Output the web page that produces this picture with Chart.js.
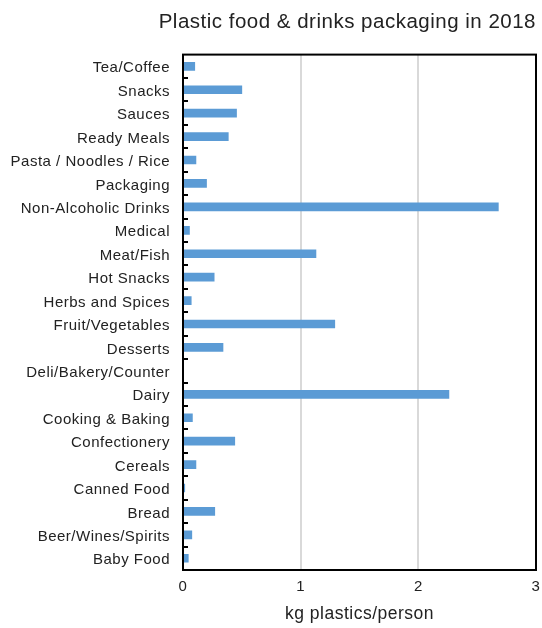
<!DOCTYPE html>
<html lang="en">
<head>
  <meta charset="UTF-8" />
  <title>Plastic food &amp; drinks packaging in 2018</title>
  <script src="https://cdn.jsdelivr.net/npm/chart.js"></script>
  <style>
    html, body { margin: 0; padding: 0; background: #fff; }
    #wrap { width: 542px; height: 628px; }
  </style>
</head>
<body>
  <div id="wrap"><canvas id="packChart" width="542" height="628"></canvas></div>
  <script>
    // Categories, bottom to top (axis is reversed so Baby Food sits at the bottom)
    const categories = [
      "Baby Food", "Beer/Wines/Spirits", "Bread", "Canned Food", "Cereals",
      "Confectionery", "Cooking & Baking", "Dairy", "Deli/Bakery/Counter",
      "Desserts", "Fruit/Vegetables", "Herbs and Spices", "Hot Snacks",
      "Meat/Fish", "Medical", "Non-Alcoholic Drinks", "Packaging",
      "Pasta / Noodles / Rice", "Ready Meals", "Sauces", "Snacks", "Tea/Coffee"
    ];

    // kg of plastic packaging per person
    const kgPerPerson = [
      0.045, 0.075, 0.27, 0.015, 0.11,
      0.44, 0.08, 2.26, 0,
      0.34, 1.29, 0.07, 0.265,
      1.13, 0.055, 2.68, 0.20,
      0.11, 0.385, 0.455, 0.50, 0.10
    ];

    const xTicks = [0, 1, 2, 3];

    const FONT = "'Liberation Sans', Arial, sans-serif";
    const TEXT = "#222";

    // slightly looser text, set before layout so label widths are measured with it
    const spacingPlugin = {
      id: "spacing",
      beforeUpdate(chart) { chart.ctx.letterSpacing = "0.5px"; },
      beforeDraw(chart) { chart.ctx.letterSpacing = "0.5px"; }
    };

    // Frame round the plot plus short inward ticks between categories
    const framePlugin = {
      id: "frame",
      afterDatasetsDraw(chart) {
        const { ctx, chartArea: a, scales } = chart;
        const y = scales.y;
        ctx.save();
        ctx.strokeStyle = "#000";
        ctx.lineWidth = 2;
        for (let i = 0; i < categories.length - 1; i++) {
          const py = Math.round((y.getPixelForTick(i) + y.getPixelForTick(i + 1)) / 2);
          ctx.beginPath();
          ctx.moveTo(a.left, py);
          ctx.lineTo(a.left + 5, py);
          ctx.stroke();
        }
        ctx.strokeRect(a.left, a.top, a.right - a.left, a.bottom - a.top);
        ctx.restore();
      }
    };

    new Chart(document.getElementById("packChart"), {
      type: "bar",
      data: {
        labels: categories,
        datasets: [{
          data: kgPerPerson,
          backgroundColor: "#5b9bd5",
          barThickness: 8
        }]
      },
      options: {
        indexAxis: "y",
        responsive: false,
        animation: false,
        layout: { padding: { left: 0, right: 6, top: 0, bottom: 3 } },
        plugins: {
          legend: { display: false },
          tooltip: { enabled: false },
          title: {
            display: true,
            text: "Plastic food & drinks packaging in 2018",
            align: "end",
            color: TEXT,
            font: { family: FONT, size: 20.5, weight: "normal" },
            padding: { top: 10, bottom: 20 }
          }
        },
        scales: {
          x: {
            min: 0,
            max: 3,
            afterBuildTicks(scale) {
              scale.ticks = xTicks.map(v => ({ value: v }));
            },
            afterFit(scale) { scale.paddingRight = 0; },
            grid: {
              color: ctx => (ctx.tick && (ctx.tick.value === 0 || ctx.tick.value === 3)) ? "rgba(0,0,0,0)" : "#d9d9d9",
              lineWidth: 2,
              drawTicks: false
            },
            border: { display: false },
            ticks: {
              color: TEXT,
              padding: 8,
              font: { family: FONT, size: 15 }
            },
            title: {
              display: true,
              text: "kg plastics/person",
              color: TEXT,
              font: { family: FONT, size: 17.5 },
              padding: { top: 0, bottom: 0 }
            }
          },
          y: {
            reverse: true,
            afterFit(scale) { scale.width = 183; },
            grid: { display: false, drawTicks: false },
            border: { display: false },
            ticks: {
              color: TEXT,
              padding: 13,
              labelOffset: 2,
              autoSkip: false,
              font: { family: FONT, size: 15 }
            }
          }
        }
      },
      plugins: [spacingPlugin, framePlugin]
    });
  </script>
</body>
</html>
